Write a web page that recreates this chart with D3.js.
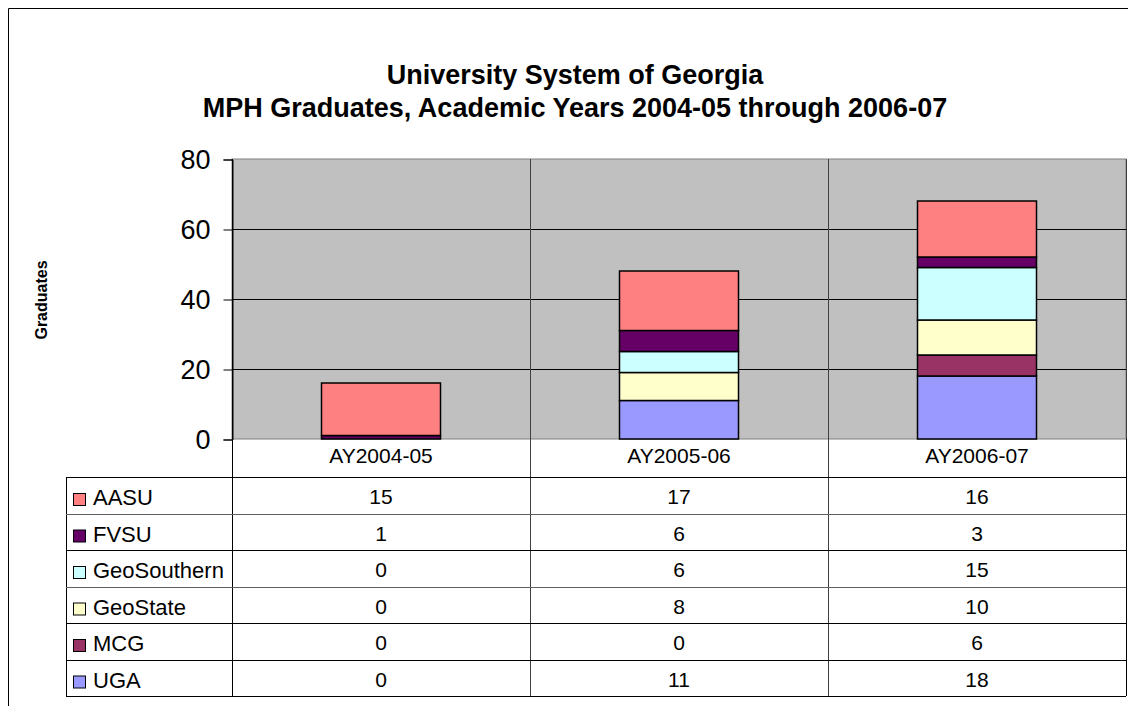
<!DOCTYPE html>
<html>
<head>
<meta charset="utf-8">
<script src="https://cdn.jsdelivr.net/npm/d3@7"></script>
<style>
  body { margin: 0; background: #fff; }
  svg { display: block; font-family: "Liberation Sans", Arial, sans-serif; }
</style>
</head>
<body>
<div id="chart"></div>
<script>
const categories = ['AY2004-05', 'AY2005-06', 'AY2006-07'];
const seriesNames = ['AASU', 'FVSU', 'GeoSouthern', 'GeoState', 'MCG', 'UGA'];
const seriesColors = ['#FF8080', '#660066', '#CCFFFF', '#FFFFCC', '#993366', '#9999FF'];
const AASU = [15, 17, 16];
const FVSU = [1, 6, 3];
const GeoSouthern = [0, 6, 15];
const GeoState = [0, 8, 10];
const MCG = [0, 0, 6];
const UGA = [0, 11, 18];
const yTicks = [0, 20, 40, 60, 80];

const seriesValues = [AASU, FVSU, GeoSouthern, GeoState, MCG, UGA];

// rows for the stack, one per category
const rows = categories.map((c, i) => {
  const r = { cat: c };
  seriesNames.forEach((s, j) => r[s] = seriesValues[j][i]);
  return r;
});

let dimensions = {
  width: 1128,
  height: 706,
  plotLeft: 232,
  plotRight: 1126,
  plotTop: 159,
  plotBottom: 439,
  tableLeft: 66,
  headerBottom: 477,
  rowH: 36.5
};

const svg = d3.select('#chart')
  .append('svg')
  .attr('width', dimensions.width)
  .attr('height', dimensions.height);

// outer frame
svg.append('path')
  .attr('d', `M8.5,${dimensions.height} V8.5 H${dimensions.width}`)
  .attr('fill', 'none')
  .attr('stroke', '#000')
  .attr('stroke-width', 1);

// title
const title = svg.append('text')
  .attr('text-anchor', 'middle')
  .attr('font-weight', 'bold')
  .attr('font-size', 27)
  .attr('fill', '#000');
title.append('tspan').attr('x', 575).attr('y', 84).text('University System of Georgia');
title.append('tspan').attr('x', 575).attr('y', 117).text('MPH Graduates, Academic Years 2004-05 through 2006-07');

const xScale = d3.scaleBand()
  .domain(categories)
  .range([dimensions.plotLeft, dimensions.plotRight])
  .paddingInner(0)
  .paddingOuter(0);

const yScale = d3.scaleLinear()
  .domain([0, 80])
  .range([dimensions.plotBottom, dimensions.plotTop]);

// plot background
svg.append('rect')
  .attr('x', dimensions.plotLeft)
  .attr('y', dimensions.plotTop)
  .attr('width', dimensions.plotRight - dimensions.plotLeft)
  .attr('height', dimensions.plotBottom - dimensions.plotTop)
  .attr('fill', '#C0C0C0')
  .attr('stroke', '#808080');

// horizontal gridlines
svg.append('g')
  .selectAll('line')
  .data(yTicks.filter(d => d > 0 && d < 80))
  .join('line')
  .attr('x1', dimensions.plotLeft)
  .attr('x2', dimensions.plotRight)
  .attr('y1', d => yScale(d) + 0.5)
  .attr('y2', d => yScale(d) + 0.5)
  .attr('stroke', '#000');

// y axis
const yAxis = d3.axisLeft(yScale)
  .tickValues(yTicks)
  .tickSize(9)
  .tickPadding(13)
  .tickFormat(d3.format('d'));
const yG = svg.append('g')
  .attr('transform', `translate(${dimensions.plotLeft + 0.5},0.5)`)
  .call(yAxis);
yG.select('.domain').attr('stroke', '#000');
yG.selectAll('.tick line').attr('stroke', '#000');
yG.selectAll('.tick text')
  .attr('font-size', 27)
  .attr('font-family', '"Liberation Sans", Arial, sans-serif')
  .attr('fill', '#000');

svg.append('text')
  .attr('transform', 'translate(47,300) rotate(-90)')
  .attr('text-anchor', 'middle')
  .attr('font-weight', 'bold')
  .attr('font-size', 16)
  .text('Graduates');

// stacked bars
const stack = d3.stack().keys(seriesNames.slice().reverse());
const stacked = stack(rows);
const color = d3.scaleOrdinal().domain(seriesNames).range(seriesColors);
const barW = 119;

svg.append('g')
  .selectAll('g')
  .data(stacked)
  .join('g')
  .attr('fill', d => color(d.key))
  .selectAll('rect')
  .data(d => d.filter(p => p[1] - p[0] > 0))
  .join('rect')
  .attr('x', d => xScale(d.data.cat) + (xScale.bandwidth() - barW) / 2)
  .attr('y', d => yScale(d[1]))
  .attr('width', barW)
  .attr('height', d => yScale(d[0]) - yScale(d[1]))
  .attr('stroke', '#000')
  .attr('stroke-width', 1.5);

// data table
const tableBottom = dimensions.headerBottom + dimensions.rowH * seriesNames.length;
const tbl = svg.append('g').attr('stroke', '#000').attr('stroke-width', 1);

// vertical lines through category columns
const colEdges = [dimensions.plotLeft].concat(categories.map(c => xScale(c) + xScale.bandwidth()));
tbl.selectAll('line.v')
  .data(colEdges)
  .join('line')
  .attr('class', 'v')
  .attr('x1', d => d + 0.5).attr('x2', d => d + 0.5)
  .attr('y1', dimensions.plotTop)
  .attr('y2', tableBottom)
  .attr('stroke', (d, i) => i === 0 ? '#000' : '#404040');

tbl.append('line')
  .attr('x1', dimensions.tableLeft + 0.5).attr('x2', dimensions.tableLeft + 0.5)
  .attr('y1', dimensions.headerBottom).attr('y2', tableBottom);

tbl.selectAll('line.h')
  .data(d3.range(seriesNames.length + 1))
  .join('line')
  .attr('class', 'h')
  .attr('x1', dimensions.tableLeft)
  .attr('x2', dimensions.plotRight)
  .attr('y1', i => Math.round(dimensions.headerBottom + i * dimensions.rowH) + 0.5)
  .attr('y2', i => Math.round(dimensions.headerBottom + i * dimensions.rowH) + 0.5)
  .attr('stroke', i => (i === 1 || i === 3) ? '#606060' : '#000');

tbl.append('line')
  .attr('x1', dimensions.plotRight + 0.5).attr('x2', dimensions.plotRight + 0.5)
  .attr('y1', dimensions.plotBottom).attr('y2', tableBottom);

// category labels
svg.append('g')
  .selectAll('text')
  .data(categories)
  .join('text')
  .attr('x', d => xScale(d) + xScale.bandwidth() / 2)
  .attr('y', 463)
  .attr('text-anchor', 'middle')
  .attr('font-size', 21)
  .text(d => d);

// row labels with swatches
const rowG = svg.append('g')
  .selectAll('g')
  .data(seriesNames)
  .join('g')
  .attr('transform', (d, i) => `translate(0,${dimensions.headerBottom + i * dimensions.rowH})`);

rowG.append('rect')
  .attr('x', 73.5)
  .attr('y', 16.5)
  .attr('width', 12)
  .attr('height', 12)
  .attr('fill', d => color(d))
  .attr('stroke', '#000');

rowG.append('text')
  .attr('x', 93)
  .attr('y', 28)
  .attr('font-size', 22)
  .text(d => d);

rowG.selectAll('text.val')
  .data((d, i) => seriesValues[i].map((v, j) => ({ v, cat: categories[j] })))
  .join('text')
  .attr('class', 'val')
  .attr('x', d => xScale(d.cat) + xScale.bandwidth() / 2)
  .attr('y', 27)
  .attr('text-anchor', 'middle')
  .attr('font-size', 21)
  .text(d => d.v);
</script>
</body>
</html>
